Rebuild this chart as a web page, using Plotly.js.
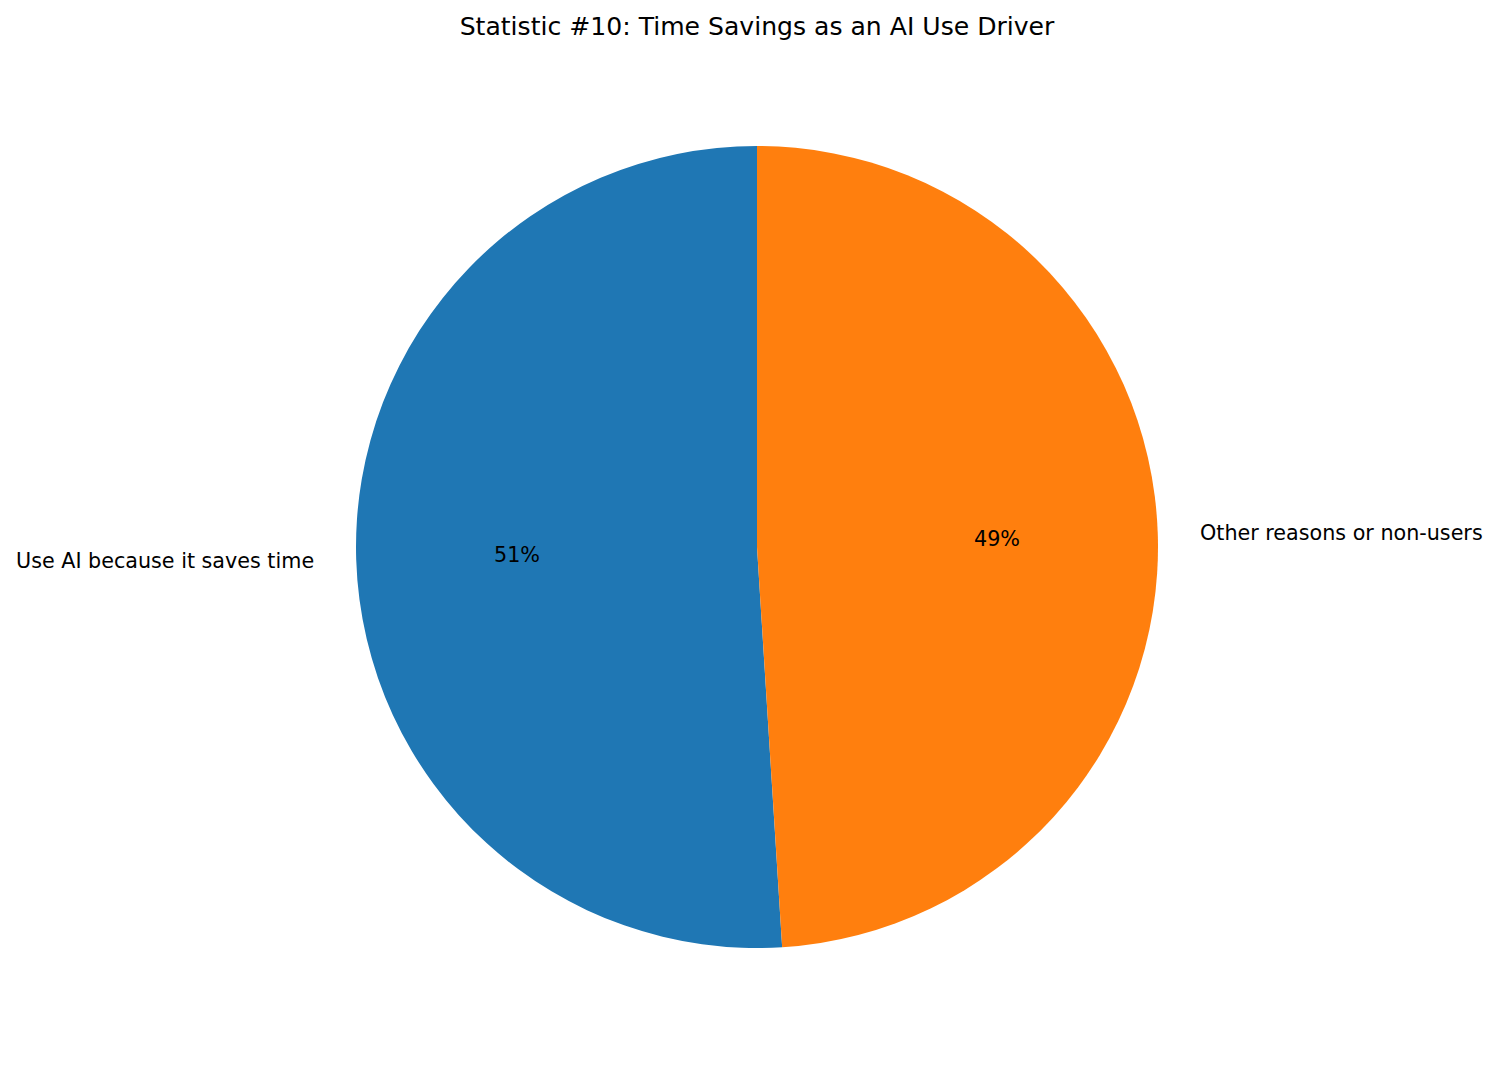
<!DOCTYPE html>
<html>
<head>
<meta charset="utf-8">
<script src="https://cdn.plot.ly/plotly-3.0.1.min.js"></script>
<style>
  html, body { margin: 0; padding: 0; background: #fff; }
  #chart { width: 1497px; height: 1065px; }
</style>
</head>
<body>
<div id="chart"></div>
<script>
// Data
var labels = ['Use AI because it saves time', 'Other reasons or non-users'];
var values = [51, 49];
var colors = ['#1f77b4', '#ff7f0e'];

var W = 1497, H = 1065;
// pie placement in pixels (centre and radius)
var cx = 757, cy = 547, R = 401;

function px_x(x) { return x / W; }
function px_y(y) { return 1 - y / H; }

function total_of(vals) {
  return vals.reduce(function (a, b) { return a + b; }, 0);
}

// labels at 1.1 R and percentages at 0.6 R, like matplotlib's autopct
function get_annotations() {
  var total = total_of(values);
  var annots = [];
  var start = 90;
  for (let i = 0; i < values.length; i++) {
    var sweep = values[i] / total * 360;
    var mid = (start + sweep / 2) * Math.PI / 180;
    start += sweep;
    var c = Math.cos(mid), s = Math.sin(mid);
    annots.push({
      x: px_x(cx + 1.1 * R * c), y: px_y(cy - 1.1 * R * s),
      xref: 'paper', yref: 'paper',
      text: labels[i],
      xanchor: c < 0 ? 'right' : 'left', yanchor: 'middle',
      showarrow: false,
      font: {size: 20.7, color: '#000'},
    });
    annots.push({
      x: px_x(cx + 0.6 * R * c), y: px_y(cy - 0.6 * R * s),
      xref: 'paper', yref: 'paper',
      text: Math.round(values[i] / total * 100) + '%',
      xanchor: 'center', yanchor: 'middle',
      showarrow: false,
      font: {size: 20.7, color: '#000'},
    });
  }
  return annots;
}

// plotly's counterclockwise pie ends the first slice at `rotation`,
// so shift it back so the first slice starts at 12 o'clock
var trace = {
  type: 'pie',
  labels: labels,
  values: values,
  sort: false,
  direction: 'counterclockwise',
  rotation: -values[0] / total_of(values) * 360,
  textinfo: 'none',
  hoverinfo: 'label+percent',
  marker: {colors: colors, line: {width: 0}},
  domain: {
    x: [px_x(cx - R), px_x(cx + R)],
    y: [px_y(cy + R), px_y(cy - R)],
  },
};

var layout = {
  width: W,
  height: H,
  margin: {l: 0, r: 0, t: 0, b: 0},
  paper_bgcolor: '#fff',
  showlegend: false,
  font: {family: 'DejaVu Sans', color: '#000'},
  title: {
    text: 'Statistic #10: Time Savings as an AI Use Driver',
    font: {size: 25.1, color: '#000'},
    x: px_x(cx), xanchor: 'center',
    y: 1 - 26 / H, yref: 'container', yanchor: 'middle',
  },
  annotations: get_annotations(),
};

Plotly.newPlot('chart', [trace], layout, {displayModeBar: false, staticPlot: true});
</script>
</body>
</html>
